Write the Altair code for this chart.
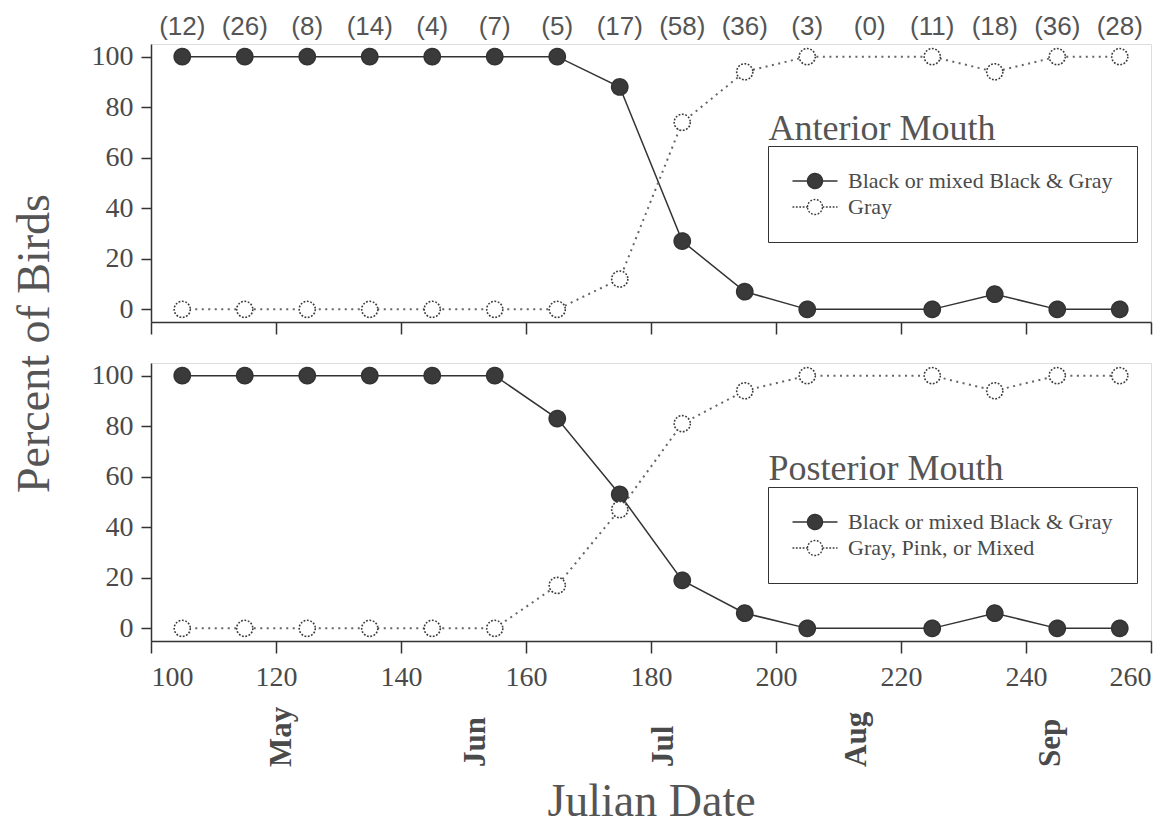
import altair as alt
import pandas as pd

# ---- data ----
days = [105, 115, 125, 135, 145, 155, 165, 175, 185, 195, 205, 225, 235, 245, 255]
ant_black = [100, 100, 100, 100, 100, 100, 100, 88, 27, 7, 0, 0, 6, 0, 0]
ant_gray = [0, 0, 0, 0, 0, 0, 0, 12, 74, 94, 100, 100, 94, 100, 100]
post_black = [100, 100, 100, 100, 100, 100, 83, 53, 19, 6, 0, 0, 6, 0, 0]
post_gray = [0, 0, 0, 0, 0, 0, 17, 47, 81, 94, 100, 100, 94, 100, 100]

count_days = [105, 115, 125, 135, 145, 155, 165, 175, 185, 195, 205, 215, 225, 235, 245, 255]
counts = [12, 26, 8, 14, 4, 7, 5, 17, 58, 36, 3, 0, 11, 18, 36, 28]

month_days = [121, 152, 182, 213, 244]
month_names = ["May", "Jun", "Jul", "Aug", "Sep"]

ant_labels = ["Black or mixed Black & Gray", "Gray"]
post_labels = ["Black or mixed Black & Gray", "Gray, Pink, or Mixed"]
panel_titles = ["Anterior Mouth", "Posterior Mouth"]
panel_title_x = [198.8, 198.8]
panel_title_y = [66.9, 58.6]
legend_y = [102, 124]

x_ticks = [100, 120, 140, 160, 180, 200, 220, 240, 260]
y_ticks = [0, 20, 40, 60, 80, 100]

W = 1000
H = 278
SERIF = "Liberation Serif"
SANS = "Liberation Sans"
INK = "#333333"
TXT = "#4a4a4a"

xscale = alt.Scale(domain=[100, 260], nice=False, zero=False)
yscale = alt.Scale(domain=[-5, 105], nice=False, zero=False)
POINT_DASHES = [[1, 0], [1.8, 1.6]]
SYMBOL = "M-3,0L-1,0M1,0L3,0M-1,0A1,1,0,1,1,1,0A1,1,0,1,1,-1,0Z"


def panel(black, gray, labels, idx, bottom):
    rows = []
    for d, b, g in zip(days, black, gray):
        rows.append({"day": d, "pct": b, "series": labels[0]})
        rows.append({"day": d, "pct": g, "series": labels[1]})
    df = pd.DataFrame(rows)

    if bottom:
        xaxis = alt.Axis(values=x_ticks, labelFont=SERIF, labelFontSize=28, labelColor=TXT,
                         labelPadding=10, tickSize=12, tickColor=INK, tickWidth=1.5,
                         domainColor=INK, domainWidth=1.5, grid=False,
                         title="Julian Date", titleFont=SERIF, titleFontSize=46,
                         titleFontWeight="normal", titleColor="#555555", titleY=160,
                         titleBaseline="middle")
        yaxis = alt.Axis(values=y_ticks, labelFont=SERIF, labelFontSize=28, labelColor=TXT,
                         labelPadding=8, tickSize=10, tickColor=INK, tickWidth=1.5,
                         domainColor=INK, domainWidth=1.5, grid=False,
                         title="Percent of Birds", titleFont=SERIF, titleFontSize=46,
                         titleFontWeight="normal", titleColor="#555555", titleAngle=270,
                         titleX=-117, titleY=-20, titleBaseline="middle", titleAlign="center")
    else:
        xaxis = alt.Axis(values=x_ticks, labels=False, tickSize=12, tickColor=INK, tickWidth=1.5,
                         domainColor=INK, domainWidth=1.5, grid=False, title=None)
        yaxis = alt.Axis(values=y_ticks, labelFont=SERIF, labelFontSize=28, labelColor=TXT,
                         labelPadding=8, tickSize=10, tickColor=INK, tickWidth=1.5,
                         domainColor=INK, domainWidth=1.5, grid=False, title=None)

    base = alt.Chart(df)
    x = alt.X("day:Q", scale=xscale, axis=xaxis)
    y = alt.Y("pct:Q", scale=yscale, axis=yaxis)

    line_black = base.transform_filter(alt.datum.series == labels[0]).mark_line(
        strokeWidth=1.5, color="#333333").encode(x=x, y=y)
    line_gray = base.transform_filter(alt.datum.series == labels[1]).mark_line(
        strokeWidth=2, color="#666666", strokeDash=[2, 4.5]).encode(x=x, y=y)

    legend = alt.Legend(
        title=None, orient="none", legendX=617, legendY=legend_y[idx],
        strokeColor=INK, padding=24, rowPadding=4,
        symbolType=SYMBOL,
        symbolSize=225, symbolStrokeColor=INK, symbolStrokeWidth=1.4, symbolOpacity=1,
        symbolOffset=12, labelOffset=22,
        labelFont=SERIF, labelFontSize=22, labelColor=TXT, labelLimit=400,
    )

    points = base.mark_point(filled=True, opacity=1, size=260,
                             stroke="#3a3a3a", strokeWidth=1.6).encode(
        x=x, y=y,
        fill=alt.Fill("series:N", scale=alt.Scale(domain=labels, range=["#3a3a3a", "white"]), legend=legend),
        stroke=alt.Stroke("series:N", scale=alt.Scale(domain=labels, range=["#333333", "#3a3a3a"]), legend=legend),
        strokeDash=alt.StrokeDash("series:N", scale=alt.Scale(domain=labels, range=POINT_DASHES), legend=legend),
    )

    tdf = pd.DataFrame({"day": [panel_title_x[idx]], "pct": [panel_title_y[idx]], "t": [panel_titles[idx]]})
    ptitle = alt.Chart(tdf).mark_text(align="left", baseline="alphabetic", font=SERIF,
                                      fontSize=36, color="#555555").encode(
        x=alt.X("day:Q", scale=xscale), y=alt.Y("pct:Q", scale=yscale), text="t:N")

    layers = [line_black, line_gray, points, ptitle]
    if not bottom:
        cdf = pd.DataFrame({"day": count_days, "lab": ["(%d)" % c for c in counts]})
        ctext = alt.Chart(cdf).mark_text(baseline="middle", font=SANS, fontSize=26,
                                         color="#555555").encode(
            x=alt.X("day:Q", scale=xscale), y=alt.value(-17), text="lab:N")
        layers.append(ctext)
    else:
        mdf = pd.DataFrame({"day": month_days, "m": month_names})
        mtext = alt.Chart(mdf).mark_text(angle=270, align="left", baseline="middle", font=SERIF,
                                         fontSize=31, fontWeight="bold", color="#4a4a4a").encode(
            x=alt.X("day:Q", scale=xscale), y=alt.value(H + 126), text="m:N")
        layers.append(mtext)

    return alt.layer(*layers).properties(width=W, height=H)


top = panel(ant_black, ant_gray, ant_labels, 0, False)
bot = panel(post_black, post_gray, post_labels, 1, True)

chart = alt.vconcat(top, bot, spacing=41, bounds="flush").resolve_scale(
    fill="independent", stroke="independent", strokeDash="independent"
).properties(padding={"left": 2, "top": 5, "right": 5, "bottom": 5}).configure_view(
    stroke=INK, strokeWidth=1.5
).configure(background="white")

chart.save("out.html", embed_options={"renderer": "svg", "actions": False})
